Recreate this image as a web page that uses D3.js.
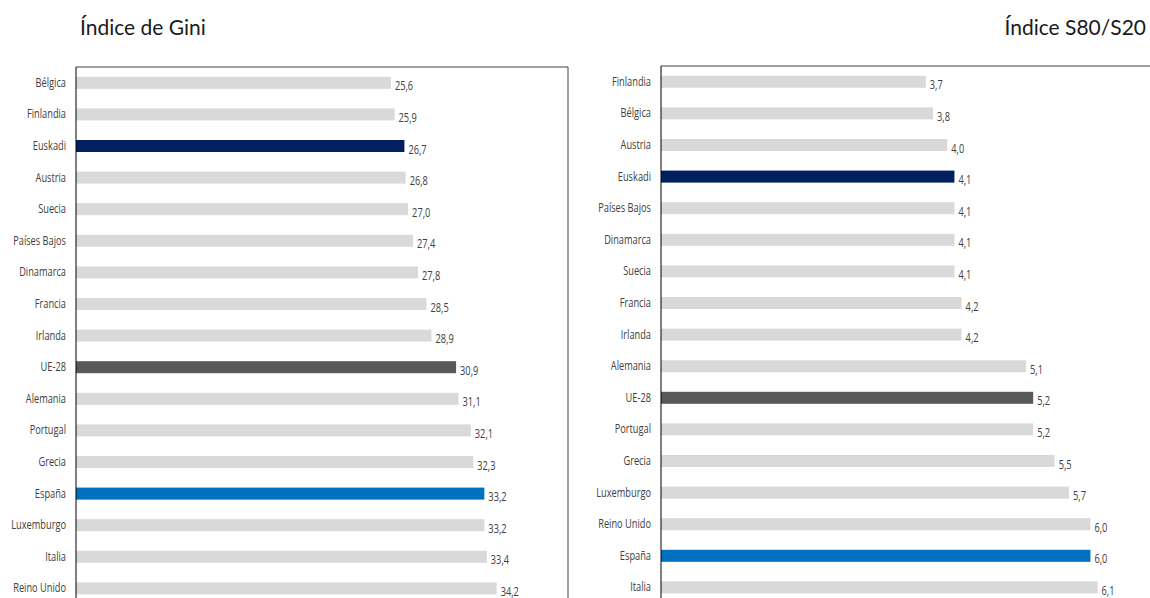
<!DOCTYPE html>
<html>
<head>
<meta charset="utf-8">
<script src="https://cdn.jsdelivr.net/npm/d3@7"></script>
<style>
  body { margin: 0; background: #fff; }
  .cat { font-family: "Open Sans", Lato, sans-serif; font-size: 12.5px; fill: #404040; }
  .val { font-family: "Open Sans", Lato, sans-serif; font-size: 12.5px; fill: #404040; }
  .title { font-family: Lato, "Open Sans", sans-serif; font-size: 21px; font-weight: 400; fill: #1a1a1a; }
</style>
</head>
<body>
<svg id="my-svg"></svg>
<script>
// Gini index (left panel)
const giniCountries = ["Bélgica", "Finlandia", "Euskadi", "Austria", "Suecia", "Países Bajos", "Dinamarca",
  "Francia", "Irlanda", "UE-28", "Alemania", "Portugal", "Grecia", "España", "Luxemburgo", "Italia", "Reino Unido"];
const giniValues = [25.6, 25.9, 26.7, 26.8, 27.0, 27.4, 27.8, 28.5, 28.9, 30.9, 31.1, 32.1, 32.3, 33.2, 33.2, 33.4, 34.2];

// S80/S20 index (right panel)
const s80Countries = ["Finlandia", "Bélgica", "Austria", "Euskadi", "Países Bajos", "Dinamarca", "Suecia",
  "Francia", "Irlanda", "Alemania", "UE-28", "Portugal", "Grecia", "Luxemburgo", "Reino Unido", "España", "Italia"];
const s80Values = [3.7, 3.8, 4.0, 4.1, 4.1, 4.1, 4.1, 4.2, 4.2, 5.1, 5.2, 5.2, 5.5, 5.7, 6.0, 6.0, 6.1];

const highlight = { "Euskadi": "#002060", "UE-28": "#595959", "España": "#0070c0" };

const W = 1150, H = 598;
const squeeze = 0.74; // the labels are a narrow face, squeeze them horizontally
let oSvg = d3.select("#my-svg").attr("width", W).attr("height", H);

const fmt = v => d3.format(".1f")(v).replace(".", ",");

function drawPanel(aCats, aVals, xMax, left, right, top, title, titleX, titleAnchor, drawRight){
  let x = d3.scaleLinear().domain([0, xMax]).range([left, right]);
  let y = d3.scaleBand().domain(aCats).range([top, top + aCats.length * 31.6]).paddingInner(0.62).paddingOuter(0.31);

  let g = oSvg.append("g");

  // frame: top line, left axis, optional right border
  g.append("line").attr("x1", left).attr("x2", drawRight ? right : W).attr("y1", top).attr("y2", top)
    .attr("stroke", "#404040").attr("stroke-width", 1);
  if(drawRight){
    g.append("line").attr("x1", right).attr("x2", right).attr("y1", top).attr("y2", H)
      .attr("stroke", "#404040").attr("stroke-width", 1);
  }

  g.selectAll("rect.bar").data(aCats).enter().append("rect")
    .attr("class", "bar")
    .attr("x", x(0))
    .attr("y", d => y(d))
    .attr("width", (d, i) => x(aVals[i]) - x(0))
    .attr("height", y.bandwidth())
    .attr("fill", d => highlight[d] || "#d9d9d9");

  g.selectAll("text.val").data(aCats).enter().append("text")
    .attr("class", "val")
    .attr("transform", (d, i) => `translate(${x(aVals[i]) + 4},${y(d) + y.bandwidth() / 2}) scale(${squeeze},1)`)
    .attr("dy", "0.6em")
    .text((d, i) => fmt(aVals[i]));

  let axis = d3.axisLeft(y).tickSize(0).tickPadding(10);
  let ga = g.append("g").attr("transform", `translate(${left},0)`).call(axis);
  ga.select(".domain").attr("stroke", "#000").attr("d", `M0,${top}V${H}`);
  ga.selectAll("text").attr("class", "cat")
    .attr("font-family", null).attr("font-size", null).attr("fill", null)
    .attr("x", -10 / squeeze)
    .attr("transform", `scale(${squeeze},1)`);

  oSvg.append("text").attr("class", "title")
    .attr("x", titleX).attr("y", 35)
    .attr("text-anchor", titleAnchor)
    .text(title);
}

drawPanel(giniCountries, giniValues, 40, 76, 568, 67, "Índice de Gini", 80, "start", true);
drawPanel(s80Countries, s80Values, 7, 661, 1162, 66, "Índice S80/S20", 1146, "end", false);
</script>
</body>
</html>
